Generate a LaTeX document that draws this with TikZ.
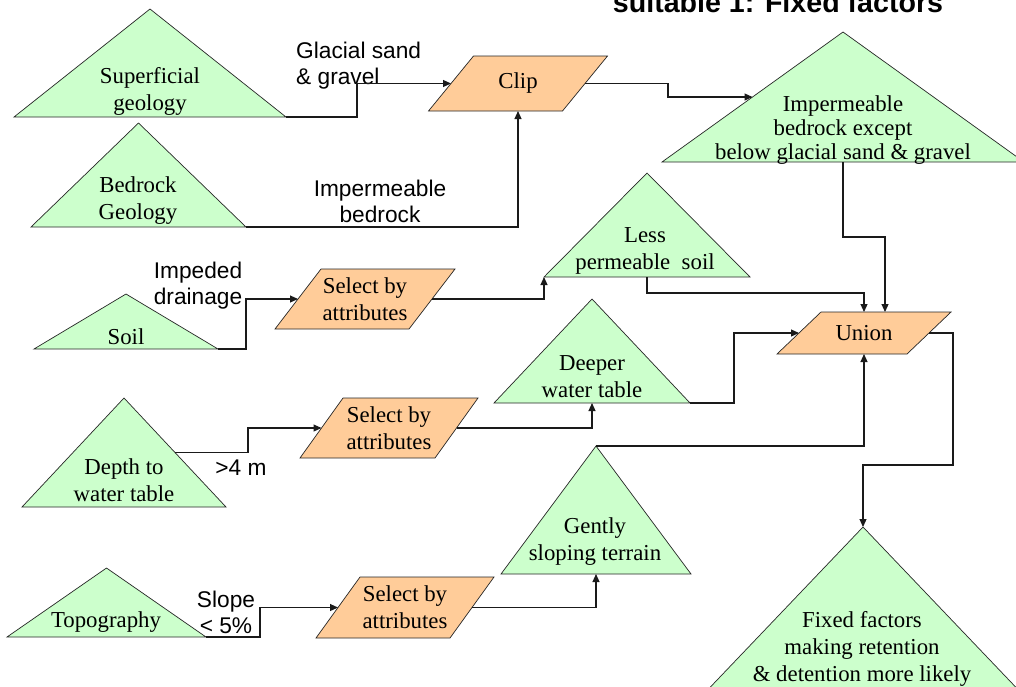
\documentclass[tikz,border=0pt]{standalone}
\usepackage{fontspec}
\setmainfont{Liberation Serif}
\newfontfamily\labelsans{Liberation Sans}
\usetikzlibrary{arrows.meta,backgrounds,calc}

\definecolor{shapegreen}{HTML}{CCFFCC}
\definecolor{shapeorange}{HTML}{FFCC99}
\definecolor{linegray}{HTML}{1A1A1A}

\newcommand\serifbody{\fontsize{22.8}{27}\selectfont}
\newcommand\sansbody{\labelsans\fontsize{22.7}{26}\selectfont}

\tikzset{
  box/.style={rectangle, inner sep=0pt, outer sep=0pt},
  tribox/.style={box},
  parabox/.style={box, font=\serifbody, align=center},
  trifill/.style={fill=shapegreen, draw=black!85, line width=0.7pt},
  parafill/.style={fill=shapeorange, draw=black!85, line width=0.7pt},
  tritext/.style={font=\serifbody, align=center, inner sep=0pt},
  flowlabel/.style={font=\sansbody, inner sep=0pt},
  conn/.style={draw=linegray, line width=1.1pt, -{Triangle[length=8pt,width=7pt]}},
}

\begin{document}
\begin{tikzpicture}[x=1pt, y=-1pt]
\useasboundingbox (0,0) rectangle (1016,686);
\clip (0,0) rectangle (1016,686);

% title (partly above the page edge)
\node[font=\labelsans\bfseries\fontsize{28.6}{32}\selectfont, anchor=base, inner sep=0pt]
  (title) at (778,12) {suitable 1: Fixed factors};

% data layers: triangles given by their bounding boxes
\node[tribox, minimum width=272, minimum height=108] (sup)    at (150,63)    {};
\node[tribox, minimum width=215, minimum height=104] (bed)    at (138.5,175) {};
\node[tribox, minimum width=362, minimum height=130] (imp)    at (843,97)    {};
\node[tribox, minimum width=206, minimum height=104] (less)   at (647,225)   {};
\node[tribox, minimum width=184, minimum height=55]  (soil)   at (126,321.5) {};
\node[tribox, minimum width=196, minimum height=104] (deeper) at (592,351)   {};
\node[tribox, minimum width=204, minimum height=109] (depth)  at (124,452.5) {};
\node[tribox, minimum width=190, minimum height=128] (gently) at (596,510)   {};
\node[tribox, minimum width=199, minimum height=69]  (topo)   at (106.5,602.5) {};
\node[tribox, minimum width=330, minimum height=173] (fixed)  at (863,613.5) {};

% triangle captions
\node[tritext] at (150,91)  {Superficial\\geology};
\node[tritext] at (138,201) {Bedrock\\Geology};
\node[tritext, font=\fontsize{22.8}{24}\selectfont] at (843,130)
  {Impermeable\\bedrock except\\below glacial sand \& gravel};
\node[tritext] at (645,251) {Less\\permeable\ \ soil};
\node[tritext] at (126,337) {Soil};
\node[tritext] at (592,377) {Deeper\\water table};
\node[tritext] at (124,480) {Depth to\\water table};
\node[tritext] at (595,542) {Gently\\sloping terrain};
\node[tritext] at (106,622) {Topography};
\node[tritext] at (862,649) {Fixed factors\\making retention\\\& detention more likely};

% operations
\node[parabox, minimum width=134, minimum height=55] (clip)  at (518,83.5)  {Clip};
\node[parabox, minimum width=134, minimum height=60] (sel1)  at (365,299)   {Select by\\attributes};
\node[parabox, minimum width=135, minimum height=60] (sel2)  at (389,428)   {Select by\\attributes};
\node[parabox, minimum width=134, minimum height=61] (sel3)  at (405,607.5) {Select by\\attributes};
\node[parabox, minimum width=130, minimum height=42] (union) at (864,333)   {Union};

% shapes behind the text
\begin{scope}[on background layer]
  \clip (0,0) rectangle (1016,686);
  \foreach \n in {sup,bed,imp,less,soil,deeper,depth,gently,topo,fixed}
    \filldraw[trifill] (\n.south west) -- (\n.north) -- (\n.south east) -- cycle;
  \foreach \n/\s in {clip/45,sel1/46,sel2/43,sel3/44,union/44}
    \filldraw[parafill] ([xshift=\s*0.5pt]\n.north west) -- ([xshift=\s*0.5pt]\n.north east)
      -- ([xshift=-\s*0.5pt]\n.south east) -- ([xshift=-\s*0.5pt]\n.south west) -- cycle;
\end{scope}

% connector labels
\node[flowlabel, anchor=west, align=left] (lglacial) at (296,66) {Glacial sand\\\& gravel};
\node[flowlabel, align=center] (limperm)  at (380,201) {Impermeable\\bedrock};
\node[flowlabel, align=center] (limpeded) at (198,286) {Impeded\\drainage};
\node[flowlabel] (ldepth) at (241,468) {>4 m};
\node[flowlabel, align=center] (lslope) at (226,612) {Slope\\< 5\%};

% connectors
\draw[conn] (sup.south east) -- ++(71,0) |- (clip.west);
\draw[conn] (bed.south east) -| (clip.south);
\draw[conn] (clip.east) -- ++(83,0) |- ($(imp.south west)!0.5!(imp.north)$);
\draw[conn] (imp.south) -- ++(0,75) -| ([xshift=21pt]union.north);
\draw[conn] (soil.south east) -- ++(28,0) |- (sel1.west);
\draw[conn] (sel1.east) -| (less.south west);
\draw[conn] (less.south) -- ++(0,16) -| (union.north);
\draw[conn] ($(depth.north)!0.5!(depth.south east)$) -- ++(73,0) |- (sel2.west);
\draw[conn] (sel2.east) -| (deeper.south);
\draw[conn] (deeper.south east) -- ++(44,0) |- (union.west);
\draw[conn] (topo.south east) -- ++(54,0) |- (sel3.west);
\draw[conn] (sel3.east) -| (gently.south);
\draw[conn] (gently.north) -| (union.south);
\draw[conn] (union.east) -- ++(24,0) -- ++(0,132) -| (fixed.north);
\end{tikzpicture}
\end{document}
